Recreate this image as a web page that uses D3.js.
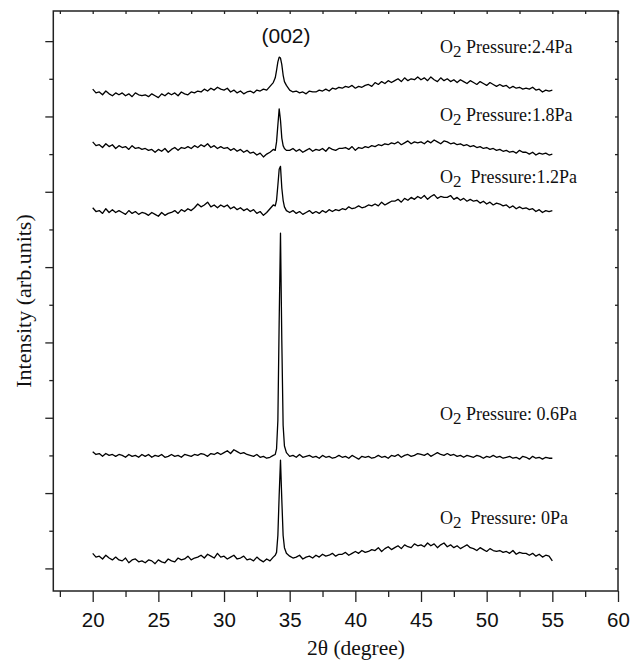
<!DOCTYPE html>
<html>
<head>
<meta charset="utf-8">
<script src="https://cdn.jsdelivr.net/npm/d3@7"></script>
<style>
body { margin: 0; background: #fff; }
.serif { font-family: "Liberation Serif", "Times New Roman", Times, "DejaVu Serif", serif; }
.sans { font-family: "Liberation Sans", Arial, Helvetica, sans-serif; }
</style>
</head>
<body>
<div id="chart-area"></div>
<script>
// 2theta sampling (denser around the (002) reflection)
const angles = [
  20, 20.25, 20.5, 20.75, 21, 21.25, 21.5, 21.75,
  22, 22.25, 22.5, 22.75, 23, 23.25, 23.5, 23.75,
  24, 24.25, 24.5, 24.75, 25, 25.25, 25.5, 25.75,
  26, 26.25, 26.5, 26.75, 27, 27.25, 27.5, 27.75,
  28, 28.25, 28.5, 28.75, 29, 29.25, 29.5, 29.75,
  30, 30.25, 30.5, 30.75, 31, 31.25, 31.5, 31.75,
  32, 32.25, 32.5, 32.75, 33, 33.25, 33.5, 33.75,
  33.9, 34, 34.1, 34.2, 34.3, 34.4, 34.5, 34.6, 34.75,
  35, 35.25, 35.5, 35.75, 36, 36.25, 36.5, 36.75,
  37, 37.25, 37.5, 37.75, 38, 38.25, 38.5, 38.75,
  39, 39.25, 39.5, 39.75, 40, 40.25, 40.5, 40.75,
  41, 41.25, 41.5, 41.75, 42, 42.25, 42.5, 42.75,
  43, 43.25, 43.5, 43.75, 44, 44.25, 44.5, 44.75,
  45, 45.25, 45.5, 45.75, 46, 46.25, 46.5, 46.75,
  47, 47.25, 47.5, 47.75, 48, 48.25, 48.5, 48.75,
  49, 49.25, 49.5, 49.75, 50, 50.25, 50.5, 50.75,
  51, 51.25, 51.5, 51.75, 52, 52.25, 52.5, 52.75,
  53, 53.25, 53.5, 53.75, 54, 54.25, 54.5, 54.75,
  55
];

// intensities (arb. units, curves stacked)
const p0 = [
  16, 12, 13, 10, 14, 11, 9, 12,
  9, 8, 11, 6, 9, 10, 7, 8,
  6, 9, 8, 5, 9, 7, 6, 10,
  8, 7, 11, 9, 10, 13, 9, 11,
  12, 14, 11, 15, 13, 11, 16, 12,
  13, 10, 12, 14, 10, 11, 13, 9,
  10, 8, 12, 9, 7, 10, 8, 12,
  14, 17, 35, 78, 115, 73, 35, 22, 16,
  13, 11, 12, 14, 10, 12, 13, 11,
  14, 12, 15, 13, 14, 16, 13, 15,
  15, 17, 14, 16, 18, 16, 19, 17,
  18, 20, 19, 22, 18, 21, 23, 20,
  22, 24, 21, 25, 23, 22, 26, 24,
  25, 23, 27, 24, 26, 22, 25, 27,
  23, 25, 22, 24, 21, 23, 25, 22,
  21, 19, 22, 20, 18, 21, 19, 18,
  19, 17, 18, 16, 19, 15, 17, 16,
  16, 14, 16, 13, 15, 12, 14, 13,
  8
];

const p06 = [
  124, 121, 122, 119, 122, 120, 121, 119,
  121, 120, 118, 121, 119, 120, 118, 121,
  119, 121, 118, 120, 119, 121, 118, 119,
  121, 119, 120, 118, 121, 120, 119, 121,
  120, 122, 121, 119, 122, 121, 123, 121,
  123, 125, 122, 126, 124, 122, 123, 121,
  120, 119, 121, 118, 119, 117, 118, 120,
  121, 127, 157, 263, 356, 242, 152, 130, 123,
  119, 120, 118, 121, 118, 119, 120, 118,
  119, 117, 120, 118, 119, 117, 118, 120,
  118, 119, 117, 120, 118, 116, 119, 118,
  119, 117, 118, 120, 118, 119, 117, 120,
  119, 121, 118, 120, 121, 119, 120, 122,
  121, 120, 122, 119, 121, 123, 121, 120,
  122, 120, 121, 119, 120, 118, 120, 119,
  118, 120, 119, 117, 119, 118, 120, 118,
  119, 117, 118, 119, 117, 118, 116, 119,
  118, 116, 119, 117, 118, 116, 118, 117,
  117
];

const p12 = [
  383, 379, 380, 377, 382, 378, 381, 378,
  380, 378, 376, 380, 377, 379, 376, 378,
  377, 375, 378, 376, 374, 378, 375, 377,
  378, 380, 377, 381, 379, 382, 380, 383,
  387, 384, 386, 389, 384, 386, 383, 386,
  384, 386, 382, 384, 381, 383, 380, 382,
  379, 381, 377, 379, 375, 378, 382, 386,
  385, 391, 407, 424, 427, 404, 391, 384, 380,
  378, 380, 377, 379, 376, 378, 380, 377,
  379, 377, 380, 378, 381, 379, 381, 380,
  382, 381, 384, 382, 383, 385, 383, 384,
  386, 385, 387, 385, 389, 386, 388, 390,
  390, 392, 389, 393, 391, 394, 392, 395,
  393, 396, 392, 395, 397, 393, 395, 394,
  394, 396, 392, 394, 391, 393, 390, 392,
  390, 391, 388, 390, 387, 389, 386, 388,
  387, 385, 386, 383, 385, 382, 384, 382,
  383, 381, 382, 379, 381, 378, 380, 379,
  380
];

const p18 = [
  453, 449, 450, 447, 451, 448, 450, 446,
  449, 447, 448, 445, 449, 446, 447, 445,
  446, 444, 445, 442, 445, 443, 446, 442,
  445, 447, 444, 447, 446, 448, 446, 449,
  447, 450, 448, 451, 447, 449, 446, 448,
  446, 447, 444, 446, 443, 445, 442, 444,
  441, 442, 439, 441, 437, 440, 442, 445,
  444, 453, 471, 488, 476, 457, 449, 446, 444,
  444, 446, 443, 445, 442, 444, 446, 443,
  445, 444, 446, 443, 447, 445, 444, 446,
  446, 447, 445, 448, 444, 447, 446, 448,
  447, 449, 448, 450, 449, 451, 450, 452,
  451, 453, 450, 452, 454, 451, 453, 452,
  453, 451, 454, 452, 455, 453, 451, 454,
  453, 451, 452, 450, 451, 449, 450, 448,
  449, 447, 448, 446, 447, 445, 446, 444,
  445, 443, 444, 442, 443, 441, 444, 442,
  442, 440, 442, 439, 441, 440, 441, 439,
  440
];

const p24 = [
  509, 505, 506, 503, 507, 504, 502, 505,
  503, 505, 502, 504, 501, 505, 503, 502,
  503, 501, 504, 502, 500, 504, 502, 505,
  503, 505, 502, 506, 504, 503, 506, 505,
  507, 506, 509, 507, 510, 508, 511, 509,
  508, 510, 506, 508, 505, 507, 504, 506,
  507, 505, 508, 507, 509, 508, 512, 516,
  521, 529, 538, 543, 542, 535, 524, 517, 513,
  508, 506, 507, 505, 506, 504, 507, 506,
  506, 508, 507, 509, 507, 510, 509, 511,
  510, 512, 511, 513, 510, 512, 511, 513,
  514, 512, 516, 514, 517, 515, 518, 516,
  518, 520, 517, 521, 518, 520, 519, 522,
  519, 521, 518, 522, 519, 517, 521, 518,
  520, 517, 519, 516, 519, 517, 515, 518,
  516, 514, 517, 515, 513, 516, 514, 512,
  514, 512, 513, 510, 512, 510, 511, 509,
  510, 509, 511, 508, 509, 506, 508, 507,
  508
];

const pressures = ["  Pressure: 0Pa", " Pressure: 0.6Pa", "  Pressure:1.2Pa", " Pressure:1.8Pa", " Pressure:2.4Pa"];
const series = [p0, p06, p12, p18, p24];

const xTicks = [20, 25, 30, 35, 40, 45, 50, 55, 60];
const xMinorTicks = [17.5, 22.5, 27.5, 32.5, 37.5, 42.5, 47.5, 52.5, 57.5];
const yTicks = [0, 80, 160, 240, 320, 400, 480, 560];
const yMinorTicks = [40, 120, 200, 280, 360, 440, 520];

// where each legend text sits (angle, intensity level)
const labelAngle = 46.45;
const labelLevel = [47, 158, 409, 475, 547];

let svg = d3.select("#chart-area")
            .append("svg")
            .attr("width", 641)
            .attr("height", 667)
            .style("background", "#fff");

let x = d3.scaleLinear().domain([17, 60]).range([53.3, 618]);
let y = d3.scaleLinear().domain([-24, 592]).range([591, 11]);

function clean(g) {
    g.select(".domain").remove();
    g.attr("font-family", null);
    g.selectAll(".tick line").attr("stroke", "#222").attr("stroke-width", 1.3);
}

// bottom axis
svg.append("g")
    .attr("transform", "translate(0,591)")
    .call(d3.axisBottom(x).tickValues(xTicks).tickSize(11).tickPadding(10).tickFormat(d3.format("d")))
    .call(clean)
    .selectAll("text")
    .attr("class", "sans")
    .attr("font-size", 20.5)
    .attr("fill", "#111");
svg.append("g")
    .attr("transform", "translate(0,591)")
    .call(d3.axisBottom(x).tickValues(xMinorTicks).tickSize(6).tickFormat(""))
    .call(clean);

// top axis, ticks pointing in
svg.append("g")
    .attr("transform", "translate(0,11)")
    .call(d3.axisTop(x).tickValues(xTicks.concat(xMinorTicks)).tickSize(-3).tickFormat(""))
    .call(clean);

// left axis
svg.append("g")
    .attr("transform", "translate(53.3,0)")
    .call(d3.axisLeft(y).tickValues(yTicks).tickSize(8).tickFormat(""))
    .call(clean);
svg.append("g")
    .attr("transform", "translate(53.3,0)")
    .call(d3.axisLeft(y).tickValues(yMinorTicks).tickSize(4).tickFormat(""))
    .call(clean);

// right axis, ticks pointing in
svg.append("g")
    .attr("transform", "translate(618,0)")
    .call(d3.axisRight(y).tickValues(yTicks.concat(yMinorTicks)).tickSize(-3).tickFormat(""))
    .call(clean);

// frame
svg.append("rect")
    .attr("x", x(17))
    .attr("y", y(592))
    .attr("width", x(60) - x(17))
    .attr("height", y(-24) - y(592))
    .attr("fill", "none")
    .attr("stroke", "#222")
    .attr("stroke-width", 1.5);

// patterns
let line = d3.line()
    .x(function(d, i){ return x(angles[i]); })
    .y(function(d){ return y(d); });

svg.selectAll(".trace")
    .data(series)
    .enter()
    .append("path")
    .attr("class", "trace")
    .attr("d", line)
    .attr("fill", "none")
    .attr("stroke", "#000")
    .attr("stroke-width", 1.3)
    .attr("stroke-linejoin", "round");

// legends on each curve
pressures.forEach(function(p, i) {
    let t = svg.append("text")
        .attr("class", "serif")
        .attr("x", x(labelAngle))
        .attr("y", y(labelLevel[i]))
        .attr("font-size", 18)
        .attr("fill", "#111")
        .style("white-space", "pre");
    t.append("tspan").text("O");
    t.append("tspan").attr("font-size", 17).attr("dy", 4).text("2");
    t.append("tspan").attr("dy", -4).text(p);
});

// peak index
svg.append("text")
    .attr("class", "sans")
    .attr("x", x(34.72))
    .attr("y", y(558))
    .attr("text-anchor", "middle")
    .attr("font-size", 21)
    .attr("fill", "#111")
    .text("(002)");

// axis titles
svg.append("text")
    .attr("class", "serif")
    .attr("x", 356)
    .attr("y", 655)
    .attr("text-anchor", "middle")
    .attr("font-size", 21.5)
    .attr("fill", "#111")
    .text("2θ (degree)");

svg.append("text")
    .attr("class", "serif")
    .attr("transform", "translate(31,301) rotate(-90)")
    .attr("text-anchor", "middle")
    .attr("font-size", 22)
    .attr("fill", "#111")
    .text("Intensity (arb.units)");
</script>
</body>
</html>
